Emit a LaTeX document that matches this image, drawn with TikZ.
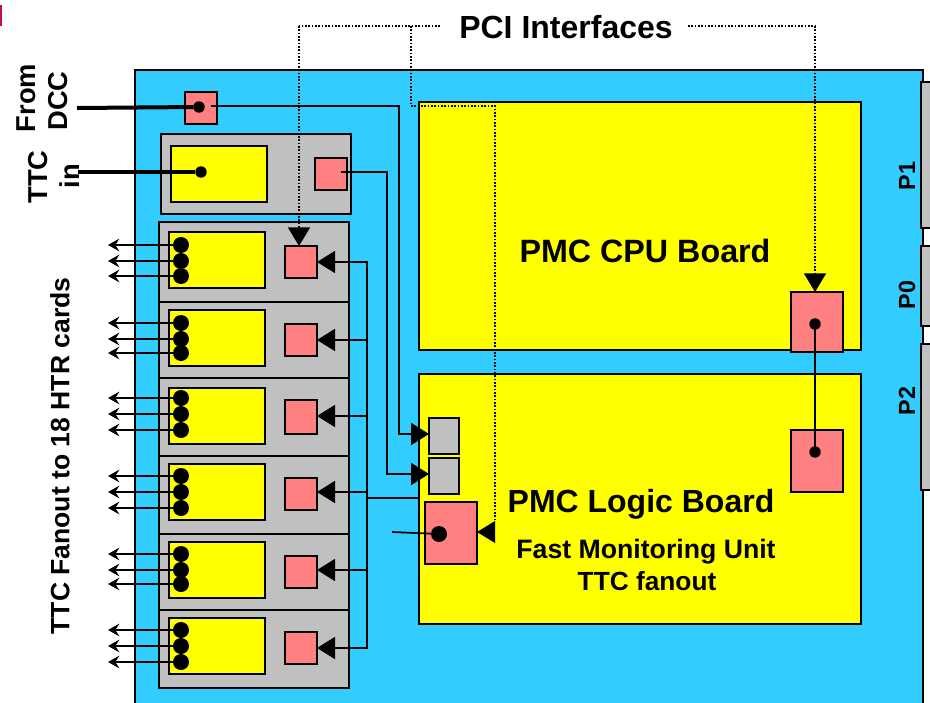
\documentclass[tikz,border=0pt]{standalone}
\usepackage{fontspec}
\setmainfont{Liberation Sans}
\usetikzlibrary{arrows.meta}
\definecolor{boardblue}{RGB}{51,204,255}
\definecolor{cardgray}{RGB}{192,192,192}
\definecolor{chippink}{RGB}{255,128,128}
\definecolor{pmcyellow}{RGB}{255,255,0}
\definecolor{cornerred}{RGB}{190,20,60}
\tikzset{
  x=.75pt,y=-.75pt,
  box/.style={draw=black,line width=1.3pt,inner sep=0pt,outer sep=0pt},
  graybox/.style={box,fill=cardgray},
  yellowbox/.style={box,fill=pmcyellow},
  pinkbox/.style={box,fill=chippink},
  sdot/.style={circle,fill=black,inner sep=0pt,outer sep=0pt,minimum size=8.6pt},
  bdot/.style={circle,fill=black,inner sep=0pt,outer sep=0pt,minimum size=12pt},
  wire/.style={draw=black,line width=1.3pt},
  thickwire/.style={draw=black,line width=3pt},
  bigarrow/.style={wire,-{Triangle[length=13.5pt,width=16.5pt]}},
  fanarrow/.style={wire,-{Stealth[length=8.5pt,width=9.5pt,inset=3pt]}},
  pci/.style={draw=black,line width=1.3pt,dash pattern=on 1.25pt off 1.25pt},
  pciarrow/.style={pci,-{Triangle[length=14pt,width=16.5pt,sep=0pt]}},
  lab/.style={font=\bfseries,text=black,inner sep=0pt,align=center},
}
\newcommand{\bx}[6]{%
  \pgfmathsetmacro\bxcx{(#3+#5)/2}%
  \pgfmathsetmacro\bxcy{(#4+#6)/2}%
  \pgfmathsetmacro\bxw{(#5-#3)*.75}%
  \pgfmathsetmacro\bxh{(#6-#4)*.75}%
  \node[#2,minimum width=\bxw pt,minimum height=\bxh pt] (#1) at (\bxcx,\bxcy) {};%
}
\begin{document}
\begin{tikzpicture}
\useasboundingbox (0,0) rectangle (930,702);
\clip (0,0) rectangle (930,702);
% corner mark
\fill[cornerred] (0,5) rectangle (2,26);
% board
\fill[boardblue] (135,70) rectangle (923,710);
\draw[line width=1.3pt] (135,710) -- (135,70) -- (923,70) -- (923,710);
% backplane connectors
\bx{pone}{graybox}{921}{82}{945}{228}
\bx{pzero}{graybox}{921}{246}{945}{326}
\bx{ptwo}{graybox}{921}{344}{945}{490}
% PMC boards
\bx{cpu}{yellowbox}{419}{102}{861}{350}
\bx{logic}{yellowbox}{419}{374}{861}{624}
\bx{cpuchip}{pinkbox}{791}{292}{843}{352}
\bx{logicchip}{pinkbox}{791}{430}{843}{492}
\bx{gone}{graybox}{429}{418}{459}{454}
\bx{gtwo}{graybox}{429}{458}{459}{494}
\bx{fmu}{pinkbox}{425}{502}{477}{564}
% inputs
\bx{dcc}{pinkbox}{185}{92}{217}{124}
\bx{ttccard}{graybox}{161}{134}{351}{214}
\bx{ttcy}{yellowbox}{171}{146}{267}{202}
\bx{ttcp}{pinkbox}{315}{158}{347}{190}
% fanout cards
\bx{cardA}{graybox}{159}{222}{349}{302}
\bx{cardB}{graybox}{159}{302}{349}{378}
\bx{cardC}{graybox}{159}{378}{349}{456}
\bx{cardD}{graybox}{159}{456}{349}{534}
\bx{cardE}{graybox}{159}{534}{349}{610}
\bx{cardF}{graybox}{159}{610}{349}{688}
\bx{yA}{yellowbox}{169}{232}{265}{288}
\bx{yB}{yellowbox}{169}{310}{265}{366}
\bx{yC}{yellowbox}{169}{388}{265}{444}
\bx{yD}{yellowbox}{169}{464}{265}{520}
\bx{yE}{yellowbox}{169}{542}{265}{598}
\bx{yF}{yellowbox}{169}{618}{265}{674}
\bx{pA}{pinkbox}{285}{246}{317}{278}
\bx{pB}{pinkbox}{285}{324}{317}{356}
\bx{pC}{pinkbox}{285}{400}{317}{434}
\bx{pD}{pinkbox}{285}{478}{317}{510}
\bx{pE}{pinkbox}{285}{556}{317}{588}
\bx{pF}{pinkbox}{285}{632}{317}{664}
% named free ends and corners
\coordinate (dccin) at (77,108);
\coordinate (ttcin) at (78,172);
\coordinate (dccout) at (212,106);
\coordinate (dcccorner) at (399,106);
\coordinate (dccdown) at (399,434);
\coordinate (ttcout) at (342,172);
\coordinate (ttccorner) at (387,172);
\coordinate (ttcdown) at (387,474);
\coordinate (busA) at (367,262);
\coordinate (busB) at (367,340);
\coordinate (busC) at (367,416);
\coordinate (busD) at (367,492);
\coordinate (busE) at (367,570);
\coordinate (busF) at (367,648);
\coordinate (busjoin) at (367,498);
\coordinate (fmuin) at (392,532);
% wires
\draw[wire,line cap=rect,line join=miter] (dccout) -- (dcccorner) -- (dccdown);
\draw[bigarrow] (dccdown) -- (gone.west |- dccdown);
\draw[wire,line cap=rect,line join=miter] (ttcout) -- (ttccorner) -- (ttcdown);
\draw[bigarrow] (ttcdown) -- (gtwo.west |- ttcdown);
\draw[wire,line cap=rect] (busA) -- (busF);
\draw[wire] (busjoin) -- (logic.west |- busjoin);
\foreach \r in {A,B,C,D,E,F}{
  \draw[bigarrow] (bus\r) -- (p\r.east |- bus\r);
}
\draw[wire] (fmuin) -- (439,534);
% dots
\node[sdot] (dccdot) at (199,107) {};
\node[sdot] (ttcdot) at (201,172) {};
\node[sdot] (cpudot) at (815,324) {};
\node[sdot] (logicdot) at (815,452) {};
\node[bdot] (fmudot) at (439,534) {};
\draw[thickwire] (dccin) -- (dccdot);
\draw[thickwire] (ttcin) -- (ttcdot);
\draw[wire] (cpudot.center) -- (logicdot.center);
% fan-out outputs
\foreach \r/\a/\b/\c in {A/245/261/276,B/323/339/353,C/398/414/430,D/476/492/508,E/554/570/584,F/630/646/662}{
  \node[bdot] (\r one) at (181,\a) {};
  \node[bdot] (\r two) at (181,\b) {};
  \node[bdot] (\r three) at (181,\c) {};
  \coordinate (\r oneout) at (108,\a);
  \coordinate (\r twoout) at (108,\b);
  \coordinate (\r threeout) at (108,\c);
  \draw[fanarrow] (\r one.center) -- (\r oneout);
  \draw[fanarrow] (\r two.center) -- (\r twoout);
  \draw[fanarrow] (\r three.center) -- (\r threeout);
}
% PCI dotted lines
\node[lab,font=\bfseries\fontsize{24}{28}\selectfont] (pcilab) at (566,27) {PCI Interfaces};
\coordinate (pcileft) at (440,26);
\coordinate (pciright) at (688,26);
\coordinate (pcione) at (299,26);
\coordinate (pcitwo) at (411,26);
\coordinate (pcithree) at (411,106);
\coordinate (pcifour) at (495,106);
\coordinate (pcifive) at (495,532);
\coordinate (pciend) at (495,520);
\coordinate (pcisix) at (815,26);
\draw[pci] (pcileft) -- (pcione);
\draw[pciarrow] (pcione) -- (pcione |- pA.north);
\draw[pci] (pcitwo) -- (pcithree) -- (pcifour) -- (pciend);
\path[fill=black] (pcifive) ++(0,-11) -- (fmu.east |- pcifive) -- (495,543) -- cycle;
\draw[pci] (pciright) -- (pcisix);
\draw[pciarrow] (pcisix) -- (pcisix |- cpuchip.north);
% labels
\node[lab,font=\bfseries\fontsize{24.2}{28}\selectfont] (cpulab) at (645,251) {PMC CPU Board};
\node[lab,font=\bfseries\fontsize{24}{28}\selectfont] (logiclab) at (641,504) {PMC Logic Board};
\node[lab,font=\bfseries\fontsize{20}{24}\selectfont] (fmulab) at (646,552) {Fast Monitoring Unit};
\node[lab,font=\bfseries\fontsize{19.7}{24}\selectfont] (fanlab) at (647,581) {TTC fanout};
\node[lab,rotate=90,font=\bfseries\fontsize{20.5}{24}\selectfont] (fromlab) at (26,98) {From};
\node[lab,rotate=90,font=\bfseries\fontsize{20.5}{24}\selectfont] (dcclab) at (58,101) {DCC};
\node[lab,rotate=90,font=\bfseries\fontsize{20.5}{24}\selectfont] (ttclab) at (38,177) {TTC};
\node[lab,rotate=90,font=\bfseries\fontsize{20.5}{24}\selectfont] (inlab) at (70,176) {in};
\node[lab,rotate=90,font=\bfseries\fontsize{19.9}{24}\selectfont] (htrlab) at (60,456) {TTC Fanout to 18 HTR cards};
\node[lab,rotate=90,font=\bfseries\fontsize{17.5}{20}\selectfont] (ponelab) at (907,176) {P1};
\node[lab,rotate=90,font=\bfseries\fontsize{17.5}{20}\selectfont] (pzerolab) at (907,295) {P0};
\node[lab,rotate=90,font=\bfseries\fontsize{17.5}{20}\selectfont] (ptwolab) at (907,401) {P2};
\end{tikzpicture}
\end{document}
